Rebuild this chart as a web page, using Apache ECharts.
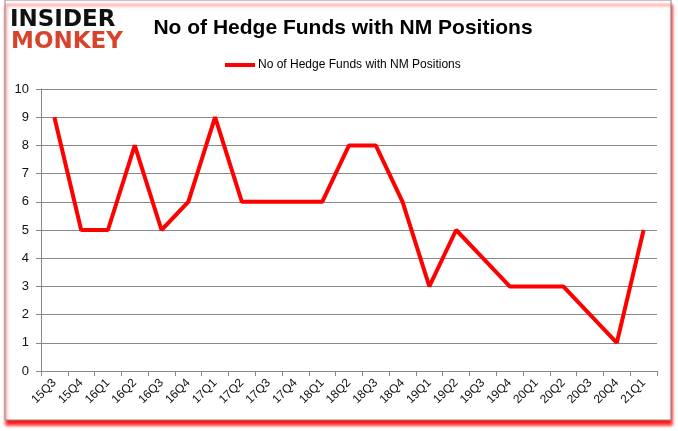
<!DOCTYPE html>
<html><head><meta charset="utf-8">
<script src="https://cdn.jsdelivr.net/npm/echarts@6/dist/echarts.min.js"></script>
<style>html,body{margin:0;padding:0;background:#fff;}#c{width:678px;height:431px;}</style>
</head><body><div id="c"></div>
<script>
const categories = ['15Q3','15Q4','16Q1','16Q2','16Q3','16Q4','17Q1','17Q2','17Q3','17Q4','18Q1','18Q2','18Q3','18Q4','19Q1','19Q2','19Q3','19Q4','20Q1','20Q2','20Q3','20Q4','21Q1'];
const values = [9,5,5,8,5,6,9,6,6,6,6,8,8,6,3,5,4,3,3,3,2,1,5];
const seriesName = 'No of Hedge Funds with NM Positions';
const titleText = 'No of Hedge Funds with NM Positions';

const chart = echarts.init(document.getElementById('c'));
chart.setOption({
  animation: false,
  backgroundColor: '#fff',
  title: {
    text: titleText, left: 338, top: 13, textAlign: 'center',
    textStyle: {fontFamily: 'Liberation Sans, Arial', fontWeight: 'bold', fontSize: 21, color: '#000'}
  },
  legend: {
    data: [seriesName], left: 220, top: 54, itemWidth: 30, itemHeight: 4, itemGap: 4,
    icon: 'rect',
    textStyle: {fontFamily: 'Liberation Sans, Arial', fontSize: 12, color: '#000', padding: [0,0,0,-2]}
  },
  graphic: [
    {type: 'rect', z: -10, shape: {x: 5, y: 0, width: 666, height: 420},
     style: {fill: '#fff', stroke: '#8a8a8a', lineWidth: 1, shadowColor: 'rgba(255,0,0,0.9)', shadowBlur: 3, shadowOffsetX: 1, shadowOffsetY: 5}},
    {type: 'text', left: 10, top: 9, style: {text: 'INSIDER', fontFamily: 'DejaVu Sans', fontWeight: 'bold', fontSize: 23, fill: '#111'}},
    {type: 'text', left: 11, top: 31, style: {text: 'MONKEY', fontFamily: 'DejaVu Sans', fontWeight: 'bold', fontSize: 23, fill: '#d8432b'}}
  ],
  grid: {left: 41, right: 21, top: 89, bottom: 60},
  xAxis: {
    type: 'category', data: categories, boundaryGap: true,
    axisLine: {lineStyle: {color: '#888', width: 1}},
    axisTick: {show: true, alignWithLabel: false, length: 5, lineStyle: {color: '#888'}},
    axisLabel: {rotate: 45, interval: 0, fontFamily: 'Liberation Sans, Arial', fontSize: 12, color: '#111', margin: 10}
  },
  yAxis: {
    type: 'value', min: 0, max: 10, interval: 1,
    axisLine: {show: true, lineStyle: {color: '#888'}},
    axisTick: {show: true, length: 5, lineStyle: {color: '#888'}},
    splitLine: {lineStyle: {color: '#888', width: 1}},
    axisLabel: {fontFamily: 'Liberation Sans, Arial', fontSize: 13, color: '#111', margin: 12}
  },
  series: [{
    name: seriesName, type: 'line', data: values, showSymbol: false, symbol: 'none',
    lineStyle: {color: '#ff0000', width: 4}, itemStyle: {color: '#ff0000'}
  }]
});
</script></body></html>
